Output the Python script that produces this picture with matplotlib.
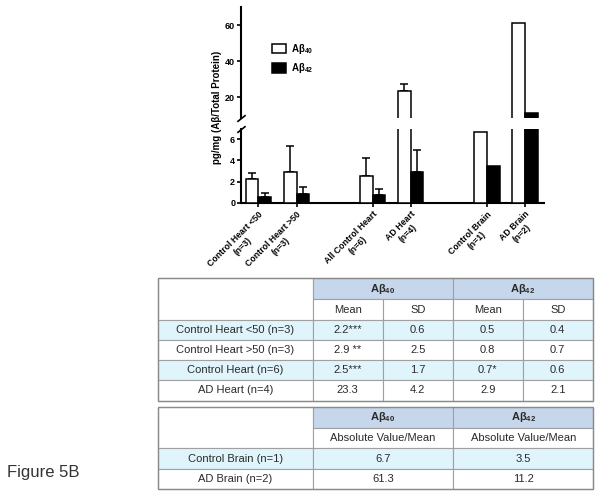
import matplotlib
matplotlib.use("Agg")
import matplotlib.pyplot as plt
from matplotlib.patches import Rectangle, Patch
import numpy as np

plt.rcParams['font.family'] = ['Liberation Sans', 'DejaVu Sans']
plt.rcParams['mathtext.fontset'] = 'custom'
plt.rcParams['mathtext.rm'] = 'Liberation Sans'
plt.rcParams['mathtext.it'] = 'Liberation Sans:italic'
plt.rcParams['mathtext.bf'] = 'Liberation Sans:bold'

# ---------------- data ----------------
groups = ["Control Heart <50\n(n=3)", "Control Heart >50\n(n=3)",
          "All Control Heart\n(n=6)", "AD Heart\n(n=4)",
          "Control Brain\n(n=1)", "AD Brain\n(n=2)"]
group_pos = [0, 3, 9, 12, 18, 21]
ab40_mean = [2.2, 2.9, 2.5, 23.3, 6.7, 61.3]
ab40_sd = [0.6, 2.5, 1.7, 4.2]          # heart groups only
ab42_mean = [0.5, 0.8, 0.7, 2.9, 3.5, 11.2]
ab42_sd = [0.4, 0.7, 0.6, 2.1]

series_labels = [r"A$\mathbf{\beta}_\mathbf{40}$", r"A$\mathbf{\beta}_\mathbf{42}$"]

# table 1
t1_rows = ["Control Heart <50 (n=3)", "Control Heart >50 (n=3)",
           "Control Heart (n=6)", "AD Heart (n=4)"]
t1_ab40_mean = ["2.2***", "2.9 **", "2.5***", "23.3"]
t1_ab40_sd = ["0.6", "2.5", "1.7", "4.2"]
t1_ab42_mean = ["0.5", "0.8", "0.7*", "2.9"]
t1_ab42_sd = ["0.4", "0.7", "0.6", "2.1"]
t1_subheads = ["Mean", "SD", "Mean", "SD"]

# table 2
t2_rows = ["Control Brain (n=1)", "AD Brain (n=2)"]
t2_ab40 = ["6.7", "61.3"]
t2_ab42 = ["3.5", "11.2"]
t2_subheads = ["Absolute Value/Mean", "Absolute Value/Mean"]

header_labels = [r"A$\mathbf{\beta}_\mathbf{40}$", r"A$\mathbf{\beta}_\mathbf{42}$"]

# ---------------- figure ----------------
W, H = 604, 497
fig = plt.figure(figsize=(W / 100, H / 100), dpi=100)

def fx(px):
    return px / W

def fy(py):
    return 1 - py / H

left_px, right_px = 240.7, 544
ax_lo = fig.add_axes([fx(left_px), fy(202.7), fx(right_px - left_px), (202.7 - 128.7) / H])
ax_hi = fig.add_axes([fx(left_px), fy(118), fx(right_px - left_px), (118 - 7.3) / H])

lw = 1.1
x = np.array(group_pos, dtype=float)
bw = 1.0
for ax in (ax_lo, ax_hi):
    ax.bar(x - bw / 2, ab40_mean, width=bw, color='white', edgecolor='black', linewidth=lw, zorder=3)
    ax.bar(x + bw / 2, ab42_mean, width=bw, color='black', edgecolor='black', linewidth=lw, zorder=3)
    n = len(ab40_sd)
    ax.errorbar(x[:n] - bw / 2, ab40_mean[:n], yerr=[np.zeros(n), ab40_sd], fmt='none',
                ecolor='black', elinewidth=lw, capsize=3, capthick=lw, zorder=2)
    n = len(ab42_sd)
    ax.errorbar(x[:n] + bw / 2, ab42_mean[:n], yerr=[np.zeros(n), ab42_sd], fmt='none',
                ecolor='black', elinewidth=lw, capsize=3, capthick=lw, zorder=2)
    ax.set_xlim(-1.4, 22.5)
    for s in ('top', 'right'):
        ax.spines[s].set_visible(False)
    ax.spines['left'].set_linewidth(1.5)
    ax.spines['bottom'].set_linewidth(1.5)

ax_lo.set_ylim(0, 7)
ax_lo.set_yticks([0, 2, 4, 6])
ax_hi.set_ylim(8.5, 70)
ax_hi.set_yticks([20, 40, 60])
for ax in (ax_lo, ax_hi):
    ax.tick_params(axis='y', length=3, width=1.2, pad=1, labelsize=6.5)
    for t in ax.get_yticklabels():
        t.set_fontweight('bold')

ax_hi.spines['bottom'].set_visible(False)
ax_hi.set_xticks([])

ax_lo.set_xticks(x)
ax_lo.set_xticklabels(groups, rotation=45, ha='right', va='top', rotation_mode='anchor',
                      multialignment='center', fontsize=6.3, fontweight='bold')
ax_lo.tick_params(axis='x', length=3, width=1.2, pad=2)

# break marks
kw = dict(marker=[(-1, -0.8), (1, 0.8)], markersize=6, linestyle='none',
          color='k', mec='k', mew=1.2, clip_on=False)
ax_hi.plot([0], [0], transform=ax_hi.transAxes, **kw)
ax_lo.plot([0], [1], transform=ax_lo.transAxes, **kw)

fig.text(fx(217), fy(107), "pg/mg (Aβ/Total Protein)", rotation=90, ha='center', va='center',
         fontsize=7, fontweight='bold')

handles = [Patch(facecolor='white', edgecolor='black', linewidth=lw),
           Patch(facecolor='black', edgecolor='black', linewidth=lw)]
leg = ax_hi.legend(handles, series_labels, loc='upper left',
                   bbox_to_anchor=(fx(267), fy(37)), bbox_transform=fig.transFigure,
                   frameon=False, borderpad=0, handlelength=1.5, handleheight=1.1,
                   handletextpad=0.5, labelspacing=0.55, prop={'size': 7, 'weight': 'bold'})

# ---------------- tables ----------------
tab = fig.add_axes([0, 0, 1, 1])
tab.set_xlim(0, W)
tab.set_ylim(H, 0)
tab.axis('off')

blue = '#c6d7ec'
cyan = '#e0f4fb'
border = '#a0a0a0'
tcol = '#2a2a2a'
fs = 8

def cell(x0, x1, y0, y1, text='', color='white', bold=False, size=fs):
    tab.add_patch(Rectangle((x0, y0), x1 - x0, y1 - y0, facecolor=color,
                            edgecolor=border, linewidth=0.8))
    if text:
        tab.text((x0 + x1) / 2, (y0 + y1) / 2, text, ha='center', va='center',
                 fontsize=size, color=tcol, fontweight='bold' if bold else 'normal')

# table 1
c1 = [158.3, 312.7, 382.7, 452.7, 522.7, 592.7]
r1 = [278.3, 299.3, 320, 340, 360, 380, 400.7]
cell(c1[0], c1[1], r1[0], r1[2])
cell(c1[1], c1[3], r1[0], r1[1], header_labels[0], blue, bold=True)
cell(c1[3], c1[5], r1[0], r1[1], header_labels[1], blue, bold=True)
for j, s in enumerate(t1_subheads):
    cell(c1[j + 1], c1[j + 2], r1[1], r1[2], s)
cols1 = [t1_ab40_mean, t1_ab40_sd, t1_ab42_mean, t1_ab42_sd]
for i, name in enumerate(t1_rows):
    col = cyan if i % 2 == 0 else 'white'
    cell(c1[0], c1[1], r1[i + 2], r1[i + 3], name, col)
    for j, vals in enumerate(cols1):
        cell(c1[j + 1], c1[j + 2], r1[i + 2], r1[i + 3], vals[i], col)
tab.add_patch(Rectangle((c1[0], r1[0]), c1[-1] - c1[0], r1[-1] - r1[0], fill=False,
                        edgecolor='#8a8a8a', linewidth=1.0))

# table 2
c2 = [158.3, 312.7, 453.3, 593.3]
r2 = [406.7, 428.3, 448.3, 469, 489.3]
cell(c2[0], c2[1], r2[0], r2[2])
cell(c2[1], c2[2], r2[0], r2[1], header_labels[0], blue, bold=True)
cell(c2[2], c2[3], r2[0], r2[1], header_labels[1], blue, bold=True)
for j, s in enumerate(t2_subheads):
    cell(c2[j + 1], c2[j + 2], r2[1], r2[2], s)
cols2 = [t2_ab40, t2_ab42]
for i, name in enumerate(t2_rows):
    col = cyan if i % 2 == 0 else 'white'
    cell(c2[0], c2[1], r2[i + 2], r2[i + 3], name, col)
    for j, vals in enumerate(cols2):
        cell(c2[j + 1], c2[j + 2], r2[i + 2], r2[i + 3], vals[i], col)
tab.add_patch(Rectangle((c2[0], r2[0]), c2[-1] - c2[0], r2[-1] - r2[0], fill=False,
                        edgecolor='#8a8a8a', linewidth=1.0))

tab.text(7, 473, "Figure 5B", ha='left', va='center', fontsize=12, color='#333333')

fig.savefig("out.png", dpi=100)
